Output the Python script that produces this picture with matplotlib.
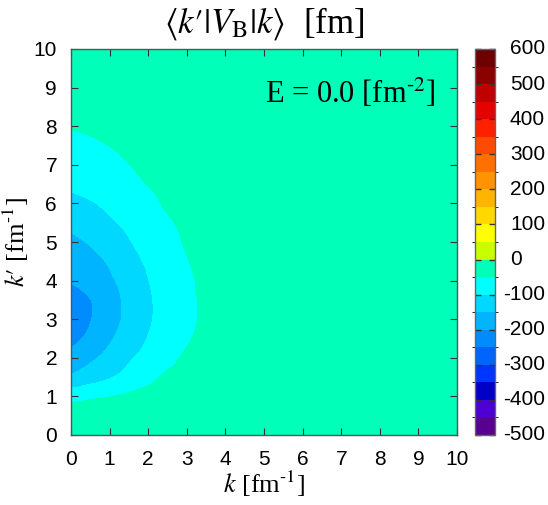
import numpy as np
import matplotlib
matplotlib.use("Agg")
import matplotlib.pyplot as plt
import matplotlib.tri as mtri
from matplotlib.colors import ListedColormap, BoundaryNorm
from matplotlib.transforms import blended_transform_factory

plt.rcParams['font.family'] = ['Liberation Sans', 'DejaVu Sans']
plt.rcParams['mathtext.fontset'] = 'stix'
plt.rcParams['axes.unicode_minus'] = False

# grid (k along x, k' along y) in fm^-1
k_vals = [0, 0.5, 1, 1.5, 2, 2.5, 3, 3.5, 4, 5, 6, 8, 10]
kp_vals = [0, 0.5, 1, 1.5, 2, 2.5, 3, 3.5, 4, 4.5, 5, 5.5, 6, 6.5, 7, 7.5, 8, 9, 10]

# <k'|V_B|k> [fm], rows = k' values, columns = k values
V = [
    [-8, -8, -8, -7, -7, -6, -6, -5, -5, -4, -3, -2, -1],
    [-26, -25, -23, -20, -17, -15, -13, -11, -9, -7, -5, -3, -1],
    [-66, -58, -51, -43, -36, -30, -25, -21, -17, -12, -8, -4, -2],
    [-143, -123, -104, -83, -62, -43, -34, -27, -22, -15, -10, -5, -2],
    [-178, -159, -135, -106, -83, -62, -44, -35, -28, -19, -12, -6, -3],
    [-215, -188, -156, -127, -98, -76, -54, -40, -31, -21, -14, -7, -3],
    [-232, -202, -170, -137, -106, -82, -60, -43, -33, -22, -15, -7, -3],
    [-228, -201, -169, -137, -106, -82, -60, -43, -33, -22, -15, -7, -3],
    [-195, -176, -157, -131, -101, -79, -57, -42, -32, -21, -14, -7, -3],
    [-180, -163, -145, -118, -93, -72, -52, -39, -30, -20, -13, -6, -3],
    [-160, -146, -125, -103, -84, -64, -46, -36, -28, -19, -12, -6, -3],
    [-140, -123, -107, -90, -72, -55, -42, -33, -26, -17, -11, -5, -2],
    [-115, -104, -90, -75, -60, -45, -36, -29, -23, -15, -10, -5, -2],
    [-92, -81, -71, -60, -49, -40, -32, -26, -21, -14, -9, -4, -2],
    [-78, -69, -60, -50.5, -42, -35, -29, -24, -19, -13, -8, -4, -2],
    [-63, -56, -49.6, -43, -37, -31, -26, -22, -18, -12, -8, -4, -2],
    [-47, -44, -40, -36, -32, -28, -24, -20, -17, -11, -7, -3, -1.5],
    [-25, -24, -22, -20, -18, -16, -14, -12, -10, -7, -5, -2, -1],
    [-12, -12, -11, -10, -9, -8, -7, -6, -5, -4, -3, -1, -0.5],
]

levels = list(range(-500, 601, 50))
cbar_ticks = [-500, -400, -300, -200, -100, 0, 100, 200, 300, 400, 500, 600]
axis_ticks = list(range(0, 11))

band_colors = [
    '#5a0090', '#4c00d4', '#0000c8', '#0034ff', '#0064ff', '#008cff',
    '#00b4ff', '#00d8ff', '#00ffff', '#00ffb9', '#c8ff00', '#ffff00',
    '#ffd800', '#ffb400', '#ff9400', '#ff7000', '#ff4a00', '#ff2000',
    '#e60000', '#c00000', '#8c0000', '#6e0000',
]
cmap = ListedColormap(band_colors)
norm = BoundaryNorm(levels, cmap.N)

W, H = 548.0, 505.0
fig = plt.figure(figsize=(W / 100, H / 100), dpi=100)
ax = fig.add_axes([71 / W, 70 / H, 386 / W, 386 / H])
cax = fig.add_axes([475 / W, 70 / H, 20 / W, 386 / H])

K, KP = np.meshgrid(np.array(k_vals, float), np.array(kp_vals, float))
Z = np.array(V, float)
tri = mtri.Triangulation(K.ravel(), KP.ravel())
interp = mtri.CubicTriInterpolator(tri, Z.ravel(), kind='geom')
refiner = mtri.UniformTriRefiner(tri)
tri_f, z_f = refiner.refine_field(Z.ravel(), triinterpolator=interp, subdiv=3)
z_f = np.minimum(z_f, -0.5)
cs = ax.tricontourf(tri_f, z_f, levels=levels, cmap=cmap, norm=norm)

ax.set_xlim(0, 10)
ax.set_ylim(0, 10)
ax.set_xticks(axis_ticks)
ax.set_yticks(axis_ticks)
ax.tick_params(direction='in', length=5, width=0.8, color='#333333',
               top=True, right=True, labelsize=15)
ax.tick_params(axis='x', pad=11)
ax.tick_params(axis='y', pad=10)
for s in ax.spines.values():
    s.set_color('#555555')
    s.set_linewidth(1.0)

ax.set_xlabel(r'$k$ [fm$^{\text{-}1}$]', fontfamily='Liberation Serif', fontsize=19, labelpad=0)
ax.set_ylabel(r"$k\prime$ [fm$^{\text{-}1}$]", fontfamily='Liberation Serif', fontsize=19, labelpad=2)
fig.text(264 / W, 1 - 33 / H, r"$\langle k\prime|V_{\mathrm{B}}|k\rangle$  [fm]",
         ha='center', va='baseline', fontfamily='Liberation Serif', fontsize=25)
ax.text(9.43, 8.59, r'E = 0.0 [fm$^{\text{-}2}$]', ha='right', va='baseline',
        fontfamily='Liberation Serif', fontsize=22)

cb = fig.colorbar(cs, cax=cax, ticks=cbar_ticks)
cb.outline.set_edgecolor('#666666')
cb.outline.set_linewidth(1.0)
cax.yaxis.set_ticks_position('both')
cax.tick_params(direction='in', length=4, width=1, color='#333333',
                labelright=False, labelleft=False)
trans = blended_transform_factory(cax.transAxes, cax.transData)
for t in cbar_ticks:
    xpos = (510 - 475) / 20.0 if t >= 0 else (503.5 - 475) / 20.0
    cax.text(xpos, t, str(t), transform=trans, ha='left', va='center',
             fontsize=15, clip_on=False)

fig.savefig('out.png', dpi=100)
